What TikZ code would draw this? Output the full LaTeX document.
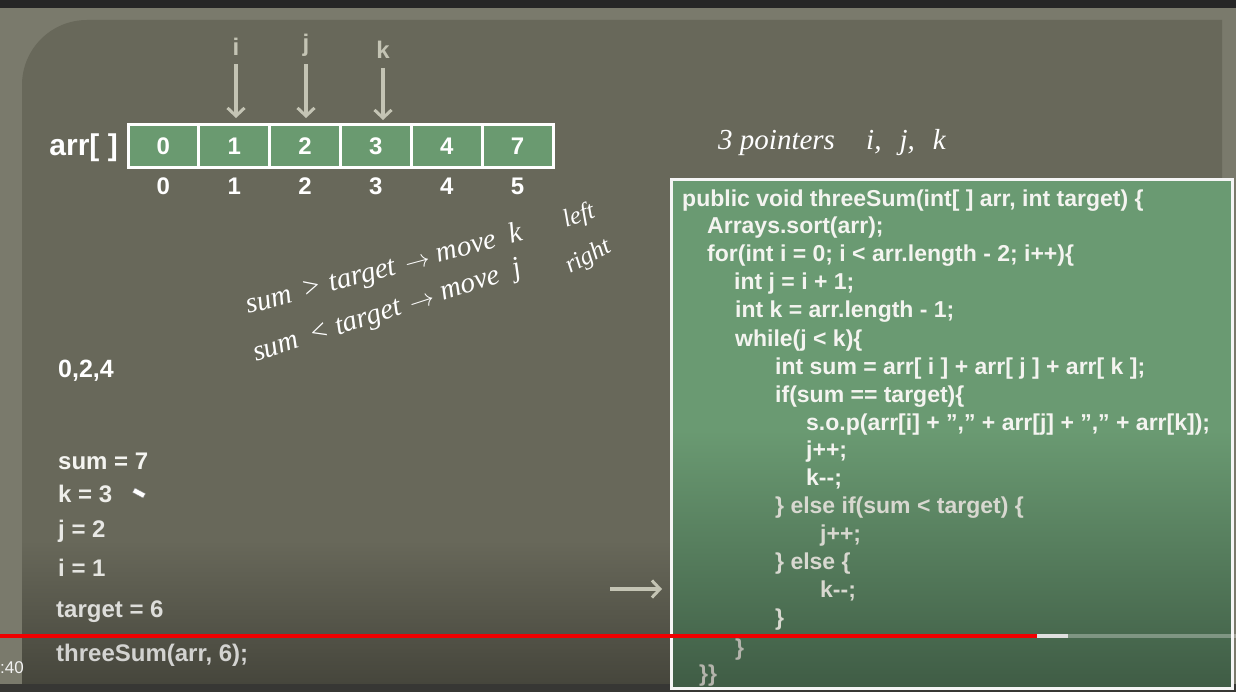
\documentclass[tikz,border=0pt]{standalone}
\usepackage{fontspec}
\setmainfont{Liberation Sans}
\newfontfamily\hand{Liberation Serif}
\usetikzlibrary{arrows.meta}
\definecolor{topdark}{HTML}{262626}
\definecolor{bordergrey}{HTML}{7A7A6C}
\definecolor{board}{HTML}{68685A}
\definecolor{boarddark}{HTML}{46463C}
\definecolor{cellgreen}{HTML}{6A9A70}
\definecolor{codetop}{HTML}{6A9A72}
\definecolor{codebot}{HTML}{3F5C45}
\definecolor{ptrgrey}{HTML}{C4C4B4}
\definecolor{codew}{HTML}{F4F4F0}
\definecolor{codeg}{HTML}{D8D8D0}
\definecolor{codeg2}{HTML}{B4B4AC}
\definecolor{ytred}{HTML}{F00000}
\tikzset{
  cell/.style={draw=white, line width=3pt, fill=cellgreen, minimum width=70.8pt, minimum height=43pt, inner sep=0pt, text=white, font=\bfseries\fontsize{24}{26}\selectfont},
  idx/.style={text=white, font=\bfseries\fontsize{24}{26}\selectfont, inner sep=0pt},
  ptrlabel/.style={text=ptrgrey, font=\bfseries\fontsize{24}{26}\selectfont, inner sep=0pt},
  ptr/.style={draw=ptrgrey, line width=3.2pt, -{Straight Barb[length=8pt,width=17pt,line width=3pt]}},
  codeline/.style={anchor=base west, inner sep=0pt, text=codew, font=\bfseries\fontsize{23}{27}\selectfont},
  lefttext/.style={anchor=base west, inner sep=0pt, font=\bfseries\fontsize{24}{28}\selectfont},
  handtext/.style={anchor=base west, inner sep=0pt, text=white, font=\hand\itshape\fontsize{29}{32}\selectfont},
  handsmall/.style={handtext, font=\hand\itshape\fontsize{25}{28}\selectfont},
}
\begin{document}
\begin{tikzpicture}[x=1pt,y=-1pt]
\useasboundingbox (0,0) rectangle (1236,692);
% background
\fill[topdark] (0,0) rectangle (1236,692);
\fill[bordergrey] (0,8) rectangle (1236,692);
\fill[board] (22,684) -- (22,85) arc[start angle=180,end angle=270,radius=65] -- (1222,20) -- (1222,684) -- cycle;
\shade[top color=board, bottom color=boarddark] (22,540) rectangle (1222,684);
\fill[topdark!80!bordergrey] (0,684) rectangle (1236,692);

% array
\node[text=white, font=\bfseries\fontsize{30}{32}\selectfont, inner sep=0pt, anchor=east] (arrlbl) at (118,148) {arr[ ]};
\node[cell] (c0) at (163.4,146) {0};
\node[cell] (c1) at (234.3,146) {1};
\node[cell] (c2) at (305.1,146) {2};
\node[cell] (c3) at (375.9,146) {3};
\node[cell] (c4) at (446.8,146) {4};
\node[cell] (c5) at (517.6,146) {7};
\node[idx] (i0) at (163.4,186) {0};
\node[idx] (i1) at (234.3,186) {1};
\node[idx] (i2) at (305.1,186) {2};
\node[idx] (i3) at (375.9,186) {3};
\node[idx] (i4) at (446.8,186) {4};
\node[idx] (i5) at (517.6,186) {5};

% pointers
\node[ptrlabel] (pi) at (236,47) {i};
\node[ptrlabel] (pj) at (306,45) {j};
\node[ptrlabel] (pk) at (383,50) {k};
\draw[ptr] (pi.south |- 0,64) -- (pi.south |- 0,118);
\draw[ptr] (pj.south |- 0,64) -- (pj.south |- 0,118);
\draw[ptr] (pk.south |- 0,68) -- (pk.south |- 0,120);

% handwritten notes
\node[handtext] (h1) at (718,150) {3 pointers};
\node[handtext] (h2) at (866,150) {i,\hspace{18pt}j,\hspace{18pt}k};
\node[handtext, rotate=15] (h3) at (248,314) {sum\hspace{12pt}>\hspace{8pt}target\hspace{10pt}$\rightarrow$\hspace{8pt}move\hspace{14pt}k};
\node[handsmall, rotate=20] (h3b) at (566,228) {left};
\node[handtext, rotate=18] (h4) at (256,362) {sum\hspace{12pt}<\hspace{8pt}target\hspace{10pt}$\rightarrow$\hspace{8pt}move\hspace{14pt}j};
\node[handsmall, rotate=28] (h5) at (570,274) {right};

% left column
\node[lefttext, text=white, font=\bfseries\fontsize{25}{28}\selectfont] (t0) at (58,377) {0,2,4};
\node[lefttext, text=codew] (t1) at (58,469) {sum = 7};
\node[lefttext, text=codew!95!gray] (t2) at (58,502) {k = 3};
\node[lefttext, text=codew!90!gray] (t3) at (58,537) {j = 2};
\node[lefttext, text=codew!86!gray] (t4) at (58,576) {i = 1};
\node[lefttext, text=codew!80!gray] (t5) at (56,617) {target = 6};
\node[lefttext, text=codew!72!gray] (t6) at (56,661) {threeSum(arr, 6);};
\node[draw=gray, fill=white, rotate=-28, minimum width=12pt, minimum height=5pt, inner sep=0pt] (cursor) at (139,493) {};

% code box
\node[draw=none, fill=codetop, minimum width=561pt, minimum height=508pt, inner sep=0pt, anchor=north west] (code) at (671,180) {};
\shade[top color=codetop, bottom color=codebot] (671,430) rectangle (1232,688);
\draw[draw=white!92!gray, line width=3pt] (code.north west) rectangle (code.south east);
\node[codeline] (l1) at (682,207) {public void threeSum(int[ ] arr, int target) \{};
\node[codeline] (l2) at (707,234) {Arrays.sort(arr);};
\node[codeline] (l3) at (707,262) {for(int i = 0; i < arr.length - 2; i++)\{};
\node[codeline] (l4) at (734,290) {int j = i + 1;};
\node[codeline] (l5) at (735,318) {int k = arr.length - 1;};
\node[codeline] (l6) at (735,346) {while(j < k)\{};
\node[codeline] (l7) at (775,374) {int sum = arr[ i ] + arr[ j ] + arr[ k ];};
\node[codeline] (l8) at (775,402) {if(sum == target)\{};
\node[codeline] (l9) at (806,430) {s.o.p(arr[i] + "," + arr[j] + "," + arr[k]);};
\node[codeline] (l10) at (806,457) {j++;};
\node[codeline] (l11) at (806,485) {k-{}-;};
\node[codeline, text=codeg] (l12) at (775,513) {\} else if(sum < target) \{};
\node[codeline, text=codeg] (l13) at (820,541) {j++;};
\node[codeline, text=codeg] (l14) at (775,569) {\} else \{};
\node[codeline, text=codeg] (l15) at (820,597) {k-{}-;};
\node[codeline, text=codeg] (l16) at (775,625) {\}};
\node[codeline, text=codeg2] (l17) at (735,655) {\}};
\node[codeline, text=codeg2] (l18) at (699,681) {\}\}};

% arrow to current line
\coordinate (a0) at (610,589);
\draw[ptr] (a0) -- (code.west |- a0) [shorten >=9pt];

% video progress bar
\coordinate (pb0) at (0,636);
\coordinate (pb1) at (1037,636);
\coordinate (pb2) at (1068,636);
\coordinate (pb3) at (1236,636);
\draw[ytred, line width=4pt] (pb0) -- (pb1);
\draw[white!75!gray, line width=4pt] (pb1) -- (pb2);
\draw[white, opacity=0.3, line width=4pt] (pb2) -- (pb3);
\node[anchor=base west, inner sep=0pt, text=white!90!gray, font=\fontsize{17}{19}\selectfont] (time) at (0,673) {:40};
\end{tikzpicture}
\end{document}
